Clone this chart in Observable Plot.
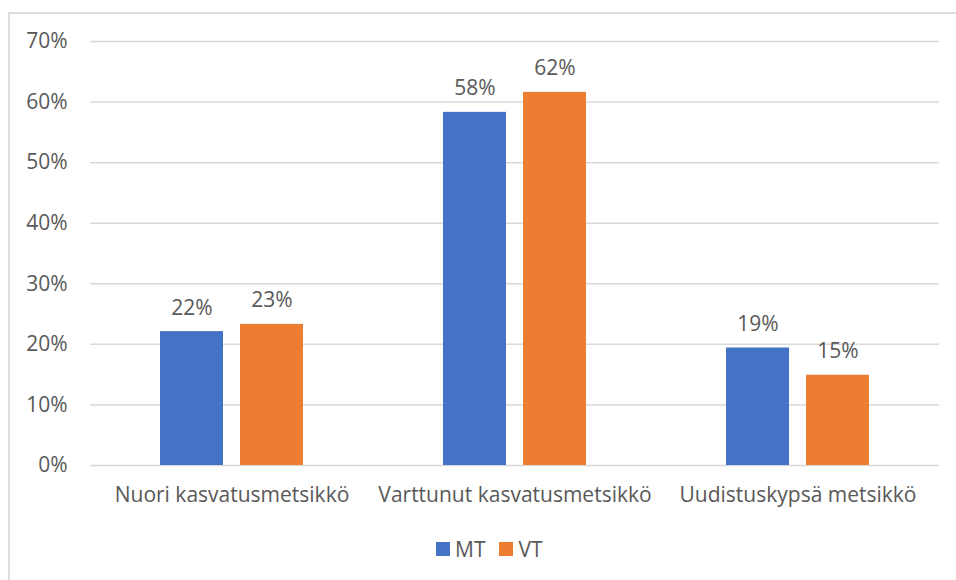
<!DOCTYPE html>
<html>
<head>
<meta charset="utf-8">
<script src="https://cdn.jsdelivr.net/npm/d3@7"></script>
<script src="https://cdn.jsdelivr.net/npm/@observablehq/plot@0.6"></script>
<style>
  body { margin: 0; background: #fff; font-family: "Open Sans", sans-serif; }
  #wrap { position: relative; width: 956px; height: 580px; overflow: hidden; }
  #frame { position: absolute; left: 8px; top: 12px; width: 1000px; height: 700px;
           border-left: 2px solid #dcdcdc; border-top: 2px solid #dcdcdc; }
  #chart { position: absolute; left: 0; top: 0; }
  #legend { position: absolute; left: 436px; top: 535px; display: flex; align-items: center;
            font-size: 21px; line-height: 28px; color: #595959; }
  #legend .sw { width: 14px; height: 14px; display: inline-block; margin-right: 5px; }
  #legend .item { display: flex; align-items: center; margin-right: 14px; }
</style>
</head>
<body>
<div id="wrap">
  <div id="frame"></div>
  <div id="chart"></div>
  <div id="legend"></div>
</div>
<script>
const categories = ["Nuori kasvatusmetsikkö", "Varttunut kasvatusmetsikkö", "Uudistuskypsä metsikkö"];
const series = ["MT", "VT"];
const colors = ["#4472C4", "#ED7D31"];
const mtValues = [0.221, 0.583, 0.194];
const vtValues = [0.233, 0.616, 0.149];
const yTicks = [0, 0.1, 0.2, 0.3, 0.4, 0.5, 0.6, 0.7];

const data = [];
categories.forEach((c, i) => {
  data.push({cat: c, series: "MT", value: mtValues[i]});
  data.push({cat: c, series: "VT", value: vtValues[i]});
});

const fmt = d3.format(".0%");
const textColor = "#595959";
const fs = 21;

const chart = Plot.plot({
  width: 956,
  height: 520,
  marginLeft: 89,
  marginRight: 17,
  marginTop: 41,
  marginBottom: 55,
  style: {fontFamily: "'Open Sans', sans-serif", fontSize: fs + "px", color: textColor, background: "transparent"},
  fx: {domain: categories, padding: 0, label: null},
  x: {domain: series, axis: null, paddingInner: 0.215, paddingOuter: 0.865},
  y: {domain: [0, 0.7], label: null},
  color: {domain: series, range: colors},
  marks: [
    Plot.gridY(yTicks, {stroke: "#d9d9d9", strokeOpacity: 1, strokeWidth: 1.5}),
    Plot.axisY(yTicks, {tickFormat: fmt, tickSize: 0, tickPadding: 23, fontSize: fs, fill: textColor, label: null}),
    Plot.axisFx({anchor: "bottom", tickSize: 0, tickPadding: 22, fontSize: fs, fill: textColor, label: null}),
    Plot.barY(data, {fx: "cat", x: "series", y: "value", fill: "series"}),
    Plot.text(data, {fx: "cat", x: "series", y: "value", text: d => fmt(d.value),
      lineAnchor: "bottom", dy: -17, fontSize: fs, fill: textColor})
  ]
});
document.getElementById("chart").appendChild(chart);

const legend = document.getElementById("legend");
series.forEach((s, i) => {
  const item = document.createElement("div");
  item.className = "item";
  const sw = document.createElement("span");
  sw.className = "sw";
  sw.style.background = colors[i];
  const t = document.createElement("span");
  t.textContent = s;
  item.appendChild(sw);
  item.appendChild(t);
  legend.appendChild(item);
});
</script>
</body>
</html>
